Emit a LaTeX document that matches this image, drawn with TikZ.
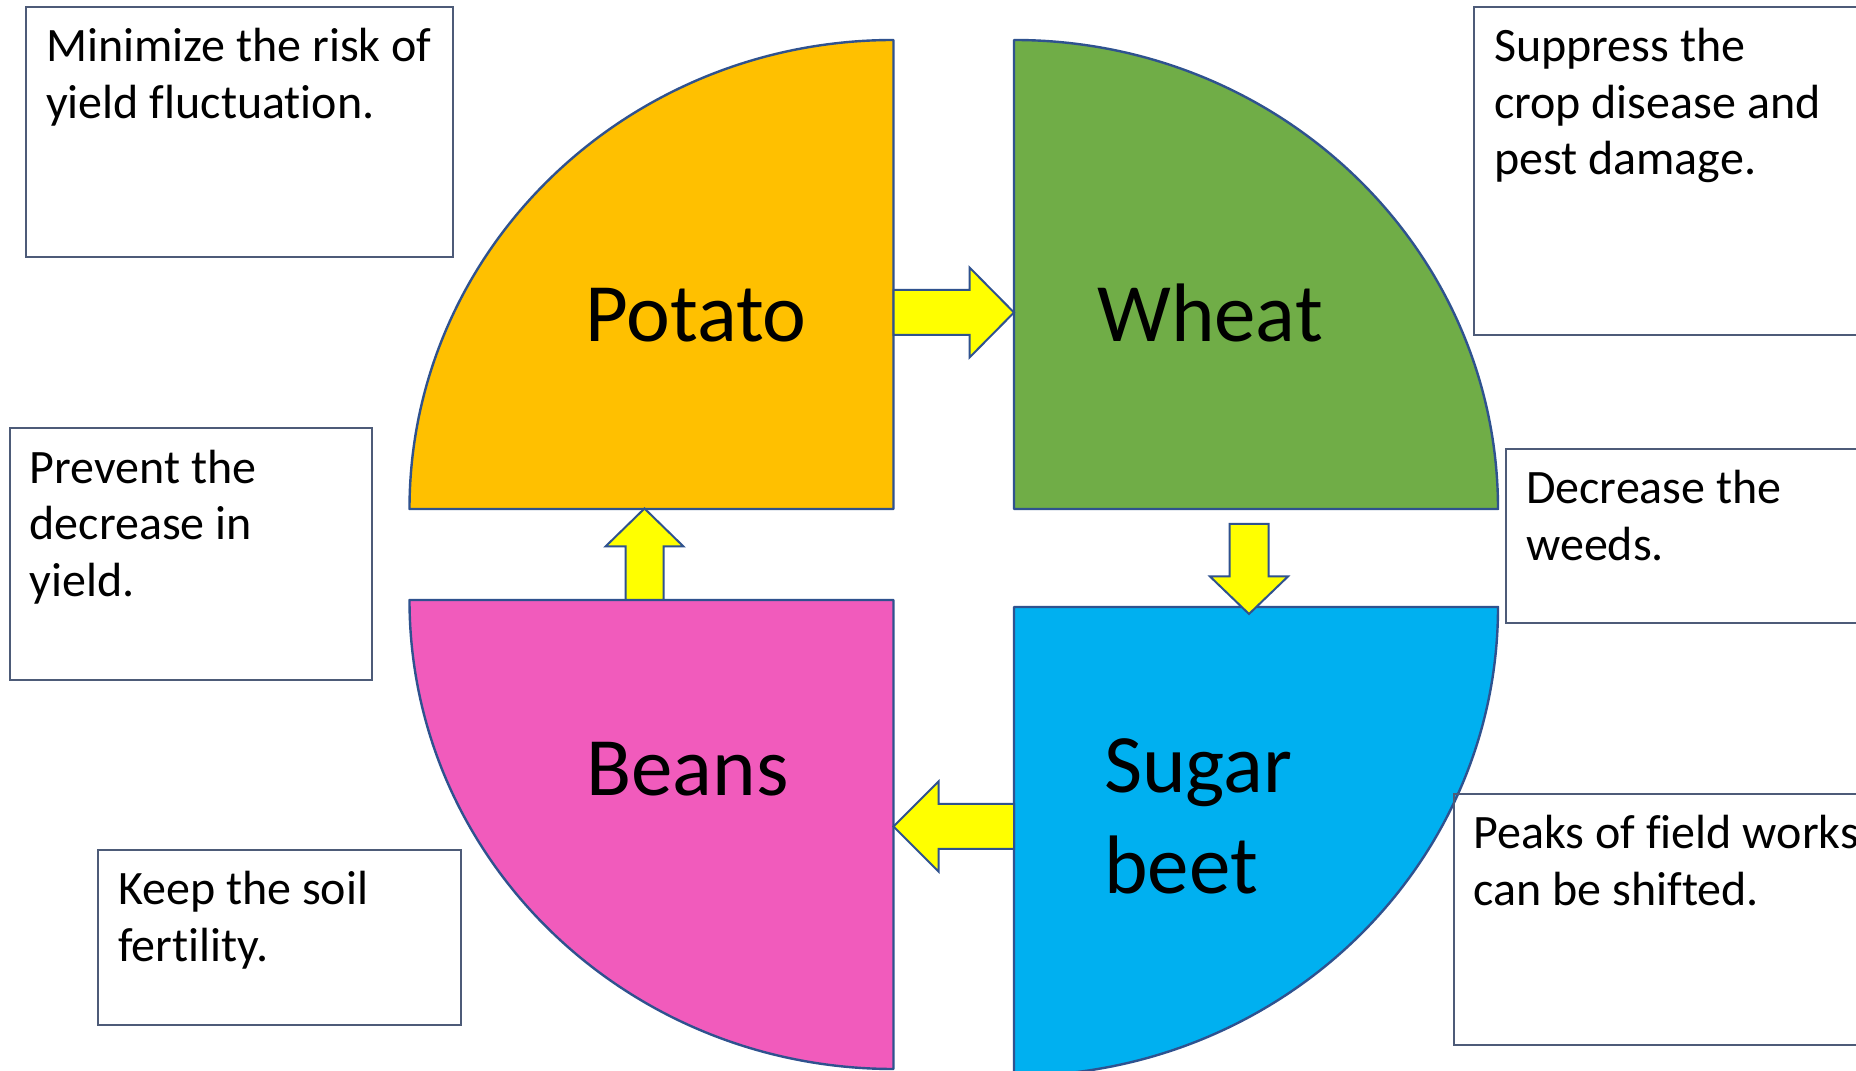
\documentclass[tikz,border=0pt]{standalone}
\usepackage{fontspec}
\setmainfont[Ligatures=NoCommon]{Carlito}
\definecolor{potato}{HTML}{FFC000}
\definecolor{wheat}{HTML}{70AD47}
\definecolor{beans}{HTML}{F15BBC}
\definecolor{sugar}{HTML}{00B0F0}
\definecolor{arrowyellow}{HTML}{FFFF00}
\definecolor{qline}{HTML}{2F528F}
\definecolor{boxline}{HTML}{4D5B78}
\begin{document}
\begin{tikzpicture}[x=1pt,y=1pt,
  quad/.style={draw=qline, line width=2.4pt, line join=round},
  barrow/.style={draw=qline, fill=arrowyellow, line width=2pt, line join=miter},
  tbox/.style={draw=boxline, line width=2pt, anchor=north west, inner sep=0pt, outer sep=0pt},
  ttext/.style={anchor=base west, inner sep=0pt, align=left, font=\fontsize{48}{56.5}\selectfont},
  croplabel/.style={anchor=base west, inner sep=0pt, align=left, font=\fontsize{83}{101}\selectfont}]
\fill[white] (0,0) rectangle (1856,1071);
\clip (0,0) rectangle (1856,1071);
% quadrants
\coordinate (cP) at (893.5,562);
\coordinate (cW) at (1014,562);
\coordinate (cB) at (893.5,471);
\coordinate (cS) at (1014,464);
\path[quad, fill=potato] (cP) -- ++(0,469) arc[start angle=90,end angle=180,x radius=484,y radius=469] -- cycle;
\path[quad, fill=wheat] (cW) -- ++(484,0) arc[start angle=0,end angle=90,x radius=484,y radius=469] -- cycle;
\path[quad, fill=beans] (cB) -- ++(-484,0) arc[start angle=180,end angle=270,x radius=484,y radius=469] -- cycle;
\path[quad, fill=sugar] (cS) -- ++(0,-469) arc[start angle=270,end angle=360,x radius=484,y radius=469] -- cycle;
% crop labels (base anchor = baseline of the last line)
\node[croplabel] (potatoT) at (585,729) {Potato};
\node[croplabel] (wheatT) at (1097,729) {Wheat};
\node[croplabel] (beansT) at (586,275) {Beans};
\node[croplabel] (sugarT) at (1104,177) {Sugar\\beet};
% block arrows
\coordinate (aR) at (893.5,758.5);
\coordinate (aD) at (1249,547);
\coordinate (aL) at (1014,244.5);
\coordinate (aU) at (644.5,471);
\draw[barrow] (aR) ++(0,22.5) -- ++(76,0) -- ++(0,22.5) -- ++(44.5,-45) -- ++(-44.5,-45) -- ++(0,22.5) -- ++(-76,0) -- cycle;
\draw[barrow] (aD) ++(-19.5,0) -- ++(39,0) -- ++(0,-52.5) -- ++(19.5,0) -- ++(-39,-37.5) -- ++(-39,37.5) -- ++(19.5,0) -- cycle;
\draw[barrow] (aL) ++(0,22.5) -- ++(-75.5,0) -- ++(0,22.5) -- ++(-45,-45) -- ++(45,-45) -- ++(0,22.5) -- ++(75.5,0) -- cycle;
\draw[barrow] (aU) ++(-19,0) -- ++(0,53.5) -- ++(-20,0) -- ++(39,38) -- ++(39,-38) -- ++(-20,0) -- ++(0,-53.5) -- cycle;
% text boxes
\node[tbox, minimum width=427, minimum height=250] (b1) at (26,1064) {};
\node[tbox, minimum width=420, minimum height=328] (b2) at (1474,1064) {};
\node[tbox, minimum width=362.5, minimum height=252] (b3) at (9.5,642.5) {};
\node[tbox, minimum width=400, minimum height=174] (b4) at (1506,622.4) {};
\node[tbox, minimum width=363, minimum height=175] (b5) at (98,221) {};
\node[tbox, minimum width=450, minimum height=251.5] (b6) at (1453.5,277) {};
\node[ttext] (t1) at ([shift={(20,-111.5)}]b1.north west) {Minimize the risk of\\yield fluctuation.};
\node[ttext] (t2) at ([shift={(20,-168)}]b2.north west) {Suppress the\\crop disease and\\pest damage.};
\node[ttext] (t3) at ([shift={(20,-168)}]b3.north west) {Prevent the\\decrease in\\yield.};
\node[ttext] (t4) at ([shift={(20,-111.5)}]b4.north west) {Decrease the\\weeds.};
\node[ttext] (t5) at ([shift={(20,-111.5)}]b5.north west) {Keep the soil\\fertility.};
\node[ttext] (t6) at ([shift={(20,-111.5)}]b6.north west) {Peaks of field works\\can be shifted.};
\end{tikzpicture}
\end{document}
